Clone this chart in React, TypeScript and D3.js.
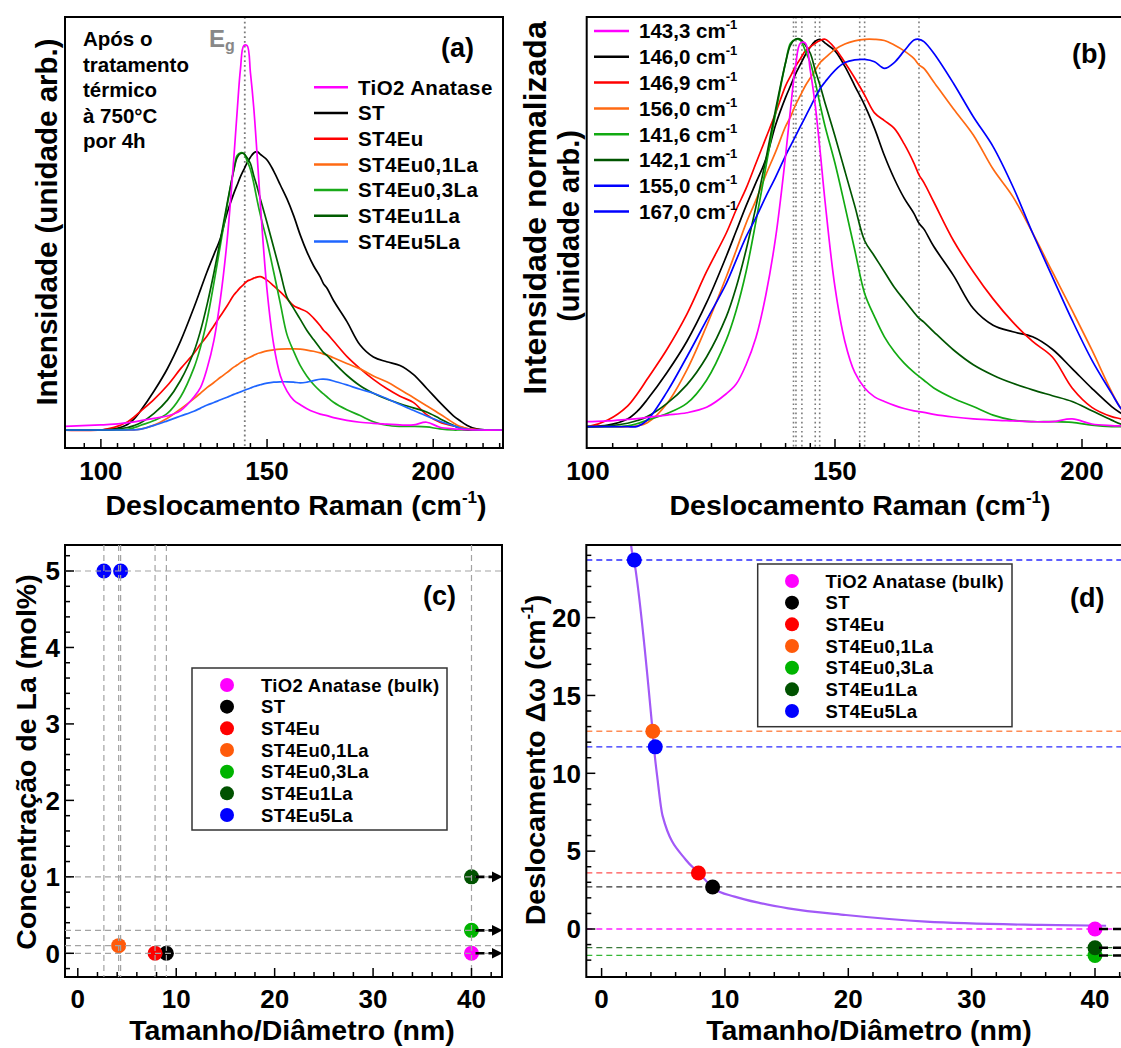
import React from 'react'
import * as d3 from 'd3'

const W = 1121
const H = 1048
const FONT = '"Liberation Sans", Arial, Helvetica, sans-serif'

// ── samples ──────────────────────────────────────────────────────────────
const SAMPLES = ['TiO2 Anatase', 'ST', 'ST4Eu', 'ST4Eu0,1La', 'ST4Eu0,3La', 'ST4Eu1La', 'ST4Eu5La']
const COLORS_A = ['#ff00ff', '#000000', '#ff0000', '#ff6a13', '#1aaa1a', '#005c00', '#1f66ff']
const COLORS_B = ['#ff00ff', '#000000', '#ff0000', '#ff6a13', '#12aa12', '#005500', '#0000ff']
const DOT_COLORS = ['#ff00ff', '#000000', '#ff0000', '#ff5a0a', '#00b400', '#005200', '#0000ff']
const HLINE_COLORS = ['#ff22ff', '#333333', '#ff5050', '#ff8c55', '#36b836', '#3a7a3a', '#2a2aff']

// peak positions (cm-1), one per legend entry of (b); index into SAMPLES
const PEAK_POS = [143.3, 146.0, 146.9, 156.0, 141.6, 142.1, 155.0, 167.0]
const PEAK_SAMPLE = [0, 1, 2, 3, 4, 5, 6, 6]
const BULK_PEAK = 143.3

// crystallite size (nm) and La content (mol%) for the same entries
const DOT_SIZE = [40, 9.0, 7.85, 4.15, 40, 40, 4.35, 2.65]
const DOT_LA = [0, 0, 0, 0.1, 0.3, 1, 5, 5]

// ── Raman spectra: shift grid and normalised intensities ────────────────
const SHIFT = [88, 100, 104, 108, 110, 112, 116, 120, 124, 128, 130, 132, 134, 136, 138, 140, 141, 142, 143, 144,
  145, 146, 147, 148, 150, 152, 154, 156, 158, 160, 162, 164, 166, 167, 168, 170, 174, 178, 182, 186,
  190, 194, 198, 202, 206, 208, 210, 213, 222]

const I_TIO2 = [0.009, 0.013, 0.015, 0.019, 0.021, 0.024, 0.03, 0.036, 0.05, 0.085, 0.11, 0.16, 0.23, 0.34, 0.49,
  0.70, 0.82, 0.93, 0.99, 0.99, 0.92, 0.83, 0.71, 0.58, 0.36, 0.22, 0.14, 0.10, 0.077, 0.065,
  0.055, 0.047, 0.041, 0.039, 0.037, 0.032, 0.025, 0.02, 0.017, 0.015, 0.013, 0.013, 0.02, 0.007, 0.003,
  0.002, 0.001, 0, 0]
const I_ST = [0, 0, 0.004, 0.02, 0.04, 0.07, 0.14, 0.22, 0.32, 0.44, 0.505, 0.57, 0.63, 0.69, 0.78,
  0.85, 0.88, 0.91, 0.935, 0.96, 0.98, 0.995, 1.0, 0.99, 0.97, 0.93, 0.88, 0.83, 0.77, 0.70,
  0.64, 0.59, 0.55, 0.525, 0.51, 0.465, 0.39, 0.305, 0.262, 0.245, 0.232, 0.20, 0.15, 0.099, 0.052,
  0.034, 0.018, 0.004, 0]
const I_EU = [0, 0, 0.017, 0.053, 0.085, 0.123, 0.20, 0.29, 0.40, 0.50, 0.56, 0.615, 0.68, 0.745, 0.81,
  0.88, 0.905, 0.93, 0.95, 0.97, 0.98, 0.99, 0.997, 1.0, 0.977, 0.94, 0.90, 0.856, 0.81, 0.79,
  0.77, 0.73, 0.68, 0.65, 0.63, 0.58, 0.48, 0.40, 0.33, 0.27, 0.22, 0.18, 0.10, 0.05, 0.026,
  0.02, 0.01, 0.002, 0]
const I_EU01 = [0, 0, 0, 0, 0.002, 0.01, 0.06, 0.146, 0.26, 0.387, 0.455, 0.525, 0.585, 0.65, 0.71,
  0.775, 0.80, 0.83, 0.855, 0.88, 0.90, 0.92, 0.94, 0.952, 0.974, 0.988, 0.996, 1.0, 1.0, 0.997,
  0.985, 0.97, 0.95, 0.934, 0.925, 0.89, 0.82, 0.753, 0.665, 0.594, 0.50, 0.40, 0.30, 0.198, 0.09,
  0.045, 0.02, 0.005, 0]
const I_EU03 = [0, 0, 0, 0.002, 0.008, 0.017, 0.034, 0.06, 0.12, 0.224, 0.30, 0.40, 0.53, 0.67, 0.81,
  0.94, 0.99, 1.0, 0.997, 0.97, 0.94, 0.89, 0.83, 0.775, 0.68, 0.57, 0.456, 0.344, 0.284, 0.232,
  0.194, 0.164, 0.14, 0.13, 0.12, 0.10, 0.073, 0.052, 0.03, 0.017, 0.013, 0.013, 0.011, 0.004, 0,
  0, 0, 0, 0]
const I_EU1 = [0, 0, 0.002, 0.009, 0.016, 0.026, 0.06, 0.108, 0.18, 0.284, 0.36, 0.456, 0.568, 0.69, 0.82,
  0.94, 0.985, 1.0, 1.0, 0.985, 0.964, 0.92, 0.88, 0.835, 0.75, 0.66, 0.57, 0.48, 0.44, 0.40,
  0.36, 0.327, 0.295, 0.28, 0.27, 0.245, 0.198, 0.16, 0.133, 0.112, 0.095, 0.08, 0.065, 0.041, 0.017,
  0.006, 0, 0, 0]
const I_EU5 = [0, 0, 0, 0, 0.001, 0.017, 0.09, 0.18, 0.275, 0.37, 0.43, 0.49, 0.54, 0.594, 0.645,
  0.70, 0.725, 0.75, 0.775, 0.80, 0.825, 0.85, 0.873, 0.89, 0.92, 0.94, 0.947, 0.948, 0.942, 0.925,
  0.94, 0.97, 0.998, 1.0, 0.994, 0.964, 0.886, 0.80, 0.723, 0.62, 0.50, 0.387, 0.275, 0.172, 0.086,
  0.045, 0.02, 0.005, 0]
const SERIES = [I_TIO2, I_ST, I_EU, I_EU01, I_EU03, I_EU1, I_EU5]
// peak heights in (a), relative to TiO2
const AMPLITUDE = [1.0, 0.717, 0.395, 0.209, 0.714, 0.712, 0.131]
const DRAW_ORDER = [1, 2, 3, 4, 5, 6, 0]

// ── phonon confinement curve of (d) ─────────────────────────────────────
const FIT_SIZE = [2.3, 2.39, 2.64, 4.10, 4.32, 4.51, 4.94, 6.84, 7.92, 9.07, 10.78, 12.96, 15.13, 19.8, 26.3, 35.6, 40.9]
const FIT_SHIFT = [25.6, 24.66, 23.64, 13.0, 11.07, 9.78, 7.28, 4.43, 3.58, 2.61, 2.08, 1.65, 1.33, 0.90, 0.47, 0.26, 0.21]

const fmt = (v: number) => v.toFixed(1).replace('.', ',')
const smooth = d3.curveCatmullRom.alpha(0.5)

function Sup({ size = 17, shift = 12, text = '-1' }) {
  return (
    <>
      <tspan fontSize={size} dy={-shift}>{text}</tspan>
      <tspan dy={shift}>)</tspan>
    </>
  )
}

function Ticks({ dir, scale, values, at, majorOf }: any) {
  return (
    <g stroke="#000" strokeWidth={1.5}>
      {values.map((v: number) => {
        const p = scale(v)
        const len = majorOf(v) ? 9 : 5
        return dir === 'x'
          ? <line key={v} x1={p} x2={p} y1={at} y2={at - len} />
          : <line key={v} x1={at} x2={at + len} y1={p} y2={p} />
      })}
    </g>
  )
}

function PanelA() {
  const L = 65, R = 503, T = 17, B = 448
  const x = d3.scaleLinear().domain([89.2, 221]).range([L, R])
  const y = d3.scaleLinear().domain([0, 1]).range([430, 41.7])
  const info = ['Após o', 'tratamento', 'térmico', 'à 750°C', 'por 4h']
  return (
    <g>
      <clipPath id="clipA"><rect x={L} y={T} width={R - L} height={B - T} /></clipPath>
      <g clipPath="url(#clipA)">
        <line x1={x(BULK_PEAK)} x2={x(BULK_PEAK)} y1={T} y2={B} stroke="#7a7a7a" strokeWidth={1.8} strokeDasharray="1.8 3" />
        {DRAW_ORDER.map((i) => {
          const gen = d3.line<number>().x((_, k) => x(SHIFT[k])).y((v) => y(v * AMPLITUDE[i])).curve(smooth)
          return <path key={i} d={gen(SERIES[i]) || ''} fill="none" stroke={COLORS_A[i]} strokeWidth={1.7} />
        })}
      </g>
      <rect x={L} y={T} width={R - L} height={B - T} fill="none" stroke="#000" strokeWidth={2} />
      <Ticks dir="x" scale={x} values={d3.range(95, 221, 5)} at={B} majorOf={(v: number) => v % 50 === 0} />
      {[100, 150, 200].map((v) => (
        <text key={v} x={x(v)} y={480} fontSize={26} textAnchor="middle">{v}</text>
      ))}
      <text x={296} y={515} fontSize={28.5} textAnchor="middle">Deslocamento Raman (cm<Sup /></text>
      <text transform="translate(57,222) rotate(-90)" fontSize={29.5} textAnchor="middle">Intensidade (unidade arb.)</text>
      {info.map((s, k) => (
        <text key={s} x={83} y={46 + k * 25.6} fontSize={20.5}>{s}</text>
      ))}
      <text x={209} y={47} fontSize={24} fill="#888">E<tspan fontSize={16} dy={4}>g</tspan></text>
      <text x={441} y={57} fontSize={27}>(a)</text>
      {SAMPLES.map((s, i) => {
        const ry = 87.3 + i * 25.7
        return (
          <g key={s}>
            <line x1={314} x2={348} y1={ry} y2={ry} stroke={COLORS_A[i]} strokeWidth={2.5} />
            <text x={358} y={ry + 7.3} fontSize={20.5} letterSpacing={0.4}>{s}</text>
          </g>
        )
      })}
    </g>
  )
}

function PanelB() {
  const L = 586.7, T = 17, B = 448
  const x = d3.scaleLinear().domain([99.74, 200]).range([L, 1082])
  const R = x(216)
  const y = d3.scaleLinear().domain([0, 1]).range([426.7, 39.3])
  return (
    <g>
      <clipPath id="clipB"><rect x={L} y={T} width={R - L} height={B - T} /></clipPath>
      <g clipPath="url(#clipB)">
        {PEAK_POS.map((p) => (
          <line key={p} x1={x(p)} x2={x(p)} y1={T} y2={B} stroke="#7a7a7a" strokeWidth={1.6} strokeDasharray="1.6 3" />
        ))}
        {DRAW_ORDER.map((i) => {
          const gen = d3.line<number>().x((_, k) => x(SHIFT[k])).y((v) => y(v)).curve(smooth)
          return <path key={i} d={gen(SERIES[i]) || ''} fill="none" stroke={COLORS_B[i]} strokeWidth={1.7} />
        })}
      </g>
      <rect x={L} y={T} width={R - L} height={B - T} fill="none" stroke="#000" strokeWidth={2} />
      <Ticks dir="x" scale={x} values={d3.range(105, 216, 5)} at={B} majorOf={(v: number) => v % 50 === 0} />
      {[100, 150, 200].map((v) => (
        <text key={v} x={x(v)} y={480} fontSize={26} textAnchor="middle">{v}</text>
      ))}
      <text x={860} y={515} fontSize={28.5} textAnchor="middle">Deslocamento Raman (cm<Sup /></text>
      <text transform="translate(546,208) rotate(-90)" fontSize={32} textAnchor="middle">Intensidade normalizada</text>
      <text transform="translate(579,226) rotate(-90)" fontSize={29} textAnchor="middle">(unidade arb.)</text>
      <text x={1072} y={63} fontSize={27}>(b)</text>
      {PEAK_POS.map((p, i) => {
        const ry = 31 + i * 25.8
        return (
          <g key={p}>
            <line x1={594} x2={629} y1={ry} y2={ry} stroke={COLORS_B[PEAK_SAMPLE[i]]} strokeWidth={2.5} />
            <text x={639} y={ry + 7.3} fontSize={20.5}>
              {fmt(p)} cm<tspan fontSize={13} dy={-9}>-1</tspan>
            </text>
          </g>
        )
      })}
    </g>
  )
}

function DotLegend({ x0, y0, x1, y1, mx, tx, ry0 }: any) {
  return (
    <g>
      <rect x={x0} y={y0} width={x1 - x0} height={y1 - y0} fill="#fff" stroke="#333" strokeWidth={1.5} />
      {SAMPLES.map((s, i) => {
        const ry = ry0 + i * 21.67
        return (
          <g key={s}>
            <circle cx={mx} cy={ry} r={7} fill={DOT_COLORS[i]} />
            <text x={tx} y={ry + 6.6} fontSize={18.5} letterSpacing={0.3}>{i === 0 ? s + ' (bulk)' : s}</text>
          </g>
        )
      })}
    </g>
  )
}

function PanelC() {
  const L = 65, R = 502, T = 545, B = 977
  const x = d3.scaleLinear().domain([0, 40]).range([77.8, 471.5])
  const y = d3.scaleLinear().domain([0, 5]).range([953.3, 571])
  const vx = Array.from(new Set(DOT_SIZE))
  const hy = Array.from(new Set(DOT_LA))
  return (
    <g>
      <rect x={L} y={T} width={R - L} height={B - T} fill="none" stroke="#000" strokeWidth={2} />
      {DOT_SIZE.map((s, i) => (
        <circle key={i} cx={x(s)} cy={y(DOT_LA[i])} r={7.5} fill={DOT_COLORS[PEAK_SAMPLE[i]]} />
      ))}
      <g stroke="#a3a3a3" strokeWidth={1.2} strokeDasharray="6 4">
        {vx.map((s) => <line key={'v' + s} x1={x(s)} x2={x(s)} y1={T} y2={B} />)}
        {hy.map((c) => <line key={'h' + c} x1={L} x2={R} y1={y(c)} y2={y(c)} />)}
      </g>
      {DOT_SIZE.map((s, i) => s >= 40 ? (
        <line key={'a' + i} x1={x(s) + 4} x2={x(43.05)} y1={y(DOT_LA[i])} y2={y(DOT_LA[i])}
          stroke="#000" strokeWidth={2.6} strokeDasharray="9 4" markerEnd="url(#arrowHead)" />
      ) : null)}
      <Ticks dir="x" scale={x} values={d3.range(0, 43, 2)} at={B} majorOf={(v: number) => v % 10 === 0} />
      <Ticks dir="y" scale={y} values={d3.range(-1, 27).map((k) => +(k * 0.2).toFixed(1))} at={L} majorOf={(v: number) => Number.isInteger(v)} />
      {[0, 10, 20, 30, 40].map((v) => (
        <text key={v} x={x(v)} y={1008} fontSize={26} textAnchor="middle">{v}</text>
      ))}
      {[0, 1, 2, 3, 4, 5].map((v) => (
        <text key={v} x={60} y={y(v) + 9.3} fontSize={26} textAnchor="end">{v}</text>
      ))}
      <text x={292} y={1040} fontSize={28.5} textAnchor="middle">Tamanho/Diâmetro (nm)</text>
      <text transform="translate(36,762) rotate(-90)" fontSize={28.5} textAnchor="middle">Concentração de La (mol%)</text>
      <text x={423} y={605} fontSize={27}>(c)</text>
      <DotLegend x0={192} y0={668} x1={447} y1={830} mx={227} tx={261} ry0={685} />
    </g>
  )
}

function PanelD() {
  const L = 586.3, T = 545, B = 977
  const x = d3.scaleLinear().domain([0, 40]).range([601.6, 1095])
  const y = d3.scaleLinear().domain([0, 20]).range([929, 617.6])
  const R = x(43.1)
  const shift = PEAK_POS.map((p) => +(p - BULK_PEAK).toFixed(1))
  const fit = d3.line<number>().x((s) => x(s)).y((_, k) => y(FIT_SHIFT[k])).curve(d3.curveMonotoneX)
  return (
    <g>
      <clipPath id="clipD"><rect x={L} y={T} width={R - L} height={B - T} /></clipPath>
      <g clipPath="url(#clipD)">
        {shift.map((d, i) => (
          <line key={'h' + i} x1={L} x2={R} y1={y(d)} y2={y(d)} stroke={HLINE_COLORS[PEAK_SAMPLE[i]]} strokeWidth={1.3} strokeDasharray="6 4" />
        ))}
        <path d={fit(FIT_SIZE) || ''} fill="none" stroke="#a259f7" strokeWidth={2.2} />
        {DOT_SIZE.map((s, i) => (
          <circle key={i} cx={x(s)} cy={y(shift[i])} r={7.5} fill={DOT_COLORS[PEAK_SAMPLE[i]]} />
        ))}
        {DOT_SIZE.map((s, i) => s >= 40 ? (
          <line key={'a' + i} x1={x(s) + 4} x2={x(43.05)} y1={y(shift[i])} y2={y(shift[i])}
            stroke="#000" strokeWidth={2.6} strokeDasharray="9 5" markerEnd="url(#arrowHead)" />
        ) : null)}
      </g>
      <rect x={L} y={T} width={R - L} height={B - T} fill="none" stroke="#000" strokeWidth={2} />
      <Ticks dir="x" scale={x} values={d3.range(0, 44, 2)} at={B} majorOf={(v: number) => v % 10 === 0} />
      <Ticks dir="y" scale={y} values={d3.range(-2, 25, 1)} at={L} majorOf={(v: number) => v % 5 === 0} />
      {[0, 10, 20, 30, 40].map((v) => (
        <text key={v} x={x(v)} y={1008} fontSize={26} textAnchor="middle">{v}</text>
      ))}
      {[0, 5, 10, 15, 20].map((v) => (
        <text key={v} x={581} y={y(v) + 9.3} fontSize={26} textAnchor="end">{v}</text>
      ))}
      <text x={869} y={1040} fontSize={28.5} textAnchor="middle">Tamanho/Diâmetro (nm)</text>
      <text transform="translate(545,760) rotate(-90)" fontSize={28.5} textAnchor="middle">Deslocamento Δω (cm<Sup /></text>
      <text x={1070} y={607} fontSize={27}>(d)</text>
      <DotLegend x0={757.7} y0={564} x1={1012} y1={726.7} mx={792} tx={825.5} ry0={581} />
    </g>
  )
}

export default function App() {
  return (
    <svg width={W} height={H} viewBox={`0 0 ${W} ${H}`}
      style={{ position: 'absolute', left: 0, top: 0, background: '#fff' }}
      fontFamily={FONT} fontWeight="bold">
      <defs>
        <marker id="arrowHead" viewBox="0 0 10 10" refX={9} refY={5} markerWidth={11} markerHeight={12}
          markerUnits="userSpaceOnUse" orient="auto">
          <path d="M0,0 L10,5 L0,10 z" fill="#000" />
        </marker>
      </defs>
      <rect width={W} height={H} fill="#fff" />
      <PanelA />
      <PanelB />
      <PanelC />
      <PanelD />
    </svg>
  )
}
